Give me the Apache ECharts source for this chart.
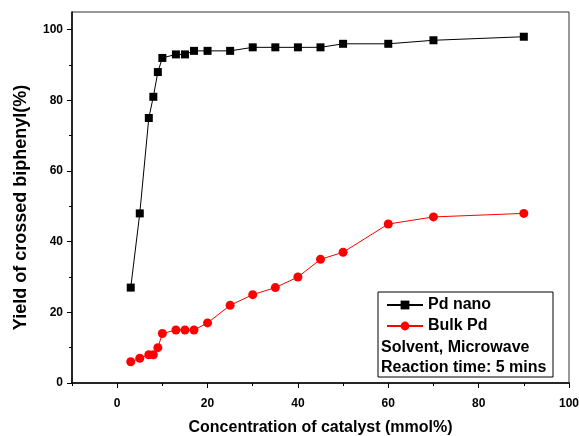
<!DOCTYPE html>
<html>
<head>
<meta charset="utf-8">
<script src="https://cdn.jsdelivr.net/npm/echarts@6/dist/echarts.min.js"></script>
<style>
html, body {margin: 0; padding: 0; background: #fff;}
#container {width: 579px; height: 436px;}
</style>
</head>
<body>
<div id="container"></div>
<script>
var conc = [3, 5, 7, 8, 9, 10, 13, 15, 17, 20, 25, 30, 35, 40, 45, 50, 60, 70, 90];
var pdNano = [27, 48, 75, 81, 88, 92, 93, 93, 94, 94, 94, 95, 95, 95, 95, 96, 96, 97, 98];
var bulkPd = [6, 7, 8, 8, 10, 14, 15, 15, 15, 17, 22, 25, 27, 30, 35, 37, 45, 47, 48];
var xMajor = [0, 20, 40, 60, 80, 100];
var xMinor = [-10, 10, 30, 50, 70, 90];
var yMajor = [0, 20, 40, 60, 80, 100];
var yMinor = [10, 30, 50, 70, 90];

var FONT = '"Liberation Sans", Arial, sans-serif';
var dom = document.getElementById('container');
var myChart = echarts.init(dom);

function pairs(xs, ys) {
    var out = [];
    for (var i = 0; i < xs.length; i++) {
        out.push([xs[i], ys[i]]);
    }
    return out;
}

var option = {
    animation: false,
    backgroundColor: '#fff',
    grid: {
        left: 72, right: 10, top: 12, bottom: 53,
        outerBoundsMode: 'none',
        show: true, borderColor: '#333', borderWidth: 1
    },
    legend: {
        orient: 'vertical',
        left: 381, top: 292,
        itemWidth: 36, itemHeight: 11, itemGap: 5,
        textStyle: {fontFamily: FONT, fontWeight: 'bold', fontSize: 16, color: '#000'},
        data: ['Pd nano', 'Bulk Pd']
    },
    graphic: [
        {type: 'rect', shape: {x: 378, y: 292, width: 175, height: 85},
         style: {fill: 'none', stroke: '#000', lineWidth: 1}, z: 100},
        {type: 'text', left: 381, top: 340,
         style: {text: 'Solvent, Microwave', font: 'bold 16px ' + FONT, fill: '#000'}, z: 100},
        {type: 'text', left: 381, top: 360,
         style: {text: 'Reaction time: 5 mins', font: 'bold 16px ' + FONT, fill: '#000'}, z: 100}
    ],
    xAxis: [
        {
            type: 'value', min: -10, max: 100,
            name: 'Concentration of catalyst (mmol%)',
            nameLocation: 'middle', nameGap: 37,
            nameTextStyle: {fontFamily: FONT, fontWeight: 'bold', fontSize: 16, color: '#000'},
            splitLine: {show: false},
            axisLine: {onZero: false, lineStyle: {color: '#000', width: 1.5}},
            axisTick: {show: true, length: 5, lineStyle: {color: '#000'}, customValues: xMajor},
            axisLabel: {margin: 15, fontFamily: FONT, fontWeight: 'bold', fontSize: 12, color: '#000', customValues: xMajor}
        },
        {
            type: 'value', min: -10, max: 100, position: 'bottom',
            splitLine: {show: false},
            axisLine: {show: false, onZero: false},
            axisTick: {show: true, length: 3, lineStyle: {color: '#000'}, customValues: xMinor},
            axisLabel: {show: false}
        }
    ],
    yAxis: [
        {
            type: 'value', min: 0, max: 105,
            name: 'Yield of crossed biphenyl(%)',
            nameLocation: 'middle', nameGap: 42, nameRotate: 90,
            nameTextStyle: {fontFamily: FONT, fontWeight: 'bold', fontSize: 18, color: '#000', padding: [0, 20, 0, 0]},
            splitLine: {show: false},
            axisLine: {onZero: false, lineStyle: {color: '#000', width: 1.5}},
            axisTick: {show: true, length: 5, lineStyle: {color: '#000'}, customValues: yMajor},
            axisLabel: {margin: 9, fontFamily: FONT, fontWeight: 'bold', fontSize: 12, color: '#000', customValues: yMajor}
        },
        {
            type: 'value', min: 0, max: 105, position: 'left',
            splitLine: {show: false},
            axisLine: {show: false, onZero: false},
            axisTick: {show: true, length: 3, lineStyle: {color: '#000'}, customValues: yMinor},
            axisLabel: {show: false}
        }
    ],
    series: [
        {
            name: 'Pd nano', type: 'line',
            symbol: 'rect', symbolSize: 8,
            itemStyle: {color: '#000'},
            lineStyle: {color: '#000', width: 1},
            data: pairs(conc, pdNano)
        },
        {
            name: 'Bulk Pd', type: 'line',
            symbol: 'circle', symbolSize: 9,
            itemStyle: {color: '#ff0000'},
            lineStyle: {color: '#ff0000', width: 1},
            data: pairs(conc, bulkPd)
        }
    ]
};
myChart.setOption(option);
</script>
</body>
</html>
